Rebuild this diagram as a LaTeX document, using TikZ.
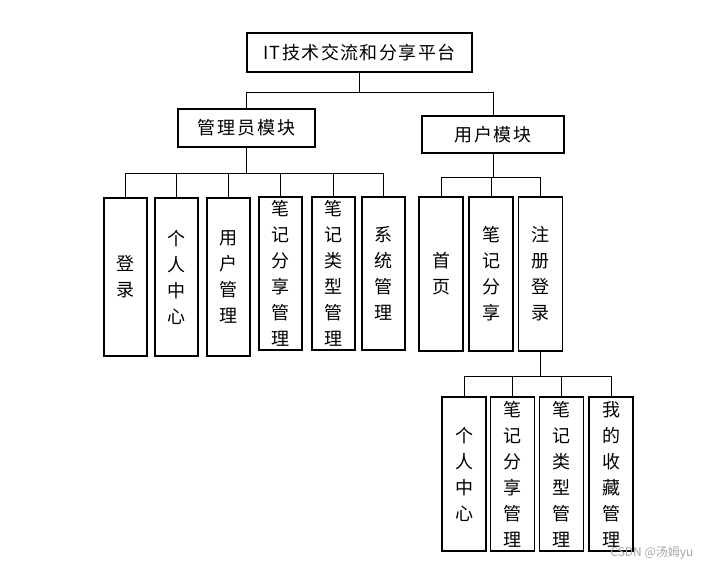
\documentclass[tikz,border=0pt]{standalone}
\usepackage{fontspec}
\setmainfont{Noto Sans CJK SC}
\usepackage{tikz}

\tikzset{
  box/.style={draw, line width=1.4pt, inner sep=0pt, font=\fontsize{18}{26}\selectfont},
  leaf/.style={box, align=center, minimum width=43pt},
  link/.style={line width=0.8pt}
}

\begin{document}
\begin{tikzpicture}[x=1pt,y=-1pt]
  \useasboundingbox (0,0) rectangle (710,572);
  % top levels
  \node[box, minimum width=225pt, minimum height=39pt] (root) at (359.5,52.5) {\addfontfeature{LetterSpace=8}IT技术交流和分享平台};
  \node[box, minimum width=137pt, minimum height=38pt] (admin) at (246.5,128) {\addfontfeature{LetterSpace=10}管理员模块};
  \node[box, minimum width=142pt, minimum height=37pt] (user) at (493,134.5) {\addfontfeature{LetterSpace=10}用户模块};
  \coordinate (bus0) at (359.5,92);
  \draw[link] (root.south) -- (bus0);
  \draw[link] (bus0) -| (admin.north);
  \draw[link] (bus0) -| (user.north);
  % admin leaves
  \coordinate (bus1) at (246.5,173);
  \draw[link] (admin.south) -- (bus1);
  \foreach \n/\x/\y/\h/\lab in {a1/125.5/277/158/{登\\录},a2/176.5/277/158/{个\\人\\中\\心},a3/228.5/277/158/{用\\户\\管\\理},
      a4/280.5/273.5/153/{笔\\记\\分\\享\\管\\理},a5/333.5/273.5/153/{笔\\记\\类\\型\\管\\理},a6/383.5/273.5/153/{系\\统\\管\\理}} {
    \node[leaf, minimum height=\h pt] (\n) at (\x,\y) {\lab};
    \draw[link] (bus1) -| (\n.north);
  }
  % user leaves
  \coordinate (bus2) at (493,177);
  \draw[link] (user.south) -- (bus2);
  \foreach \n/\x/\lab in {u1/441/{首\\页},u2/491/{笔\\记\\分\\享},u3/540.5/{注\\册\\登\\录}} {
    \node[leaf, minimum width=44pt, minimum height=154pt] (\n) at (\x,274) {\lab};
    \draw[link] (bus2) -| (\n.north);
  }
  % register sub leaves
  \coordinate (bus3) at (540.5,376);
  \draw[link] (u3.south) -- (bus3);
  \foreach \n/\x/\lab in {s1/464/{个\\人\\中\\心},s2/512.5/{笔\\记\\分\\享\\管\\理},s3/561.5/{笔\\记\\类\\型\\管\\理},s4/611/{我\\的\\收\\藏\\管\\理}} {
    \node[leaf, minimum width=44pt, minimum height=154pt] (\n) at (\x,474) {\lab};
    \draw[link] (bus3) -| (\n.north);
  }
  \node[text=black!35, font=\fontsize{12}{12}\selectfont, anchor=east] (mark) at (697,553) {CSDN @汤姆yu};
\end{tikzpicture}
\end{document}
